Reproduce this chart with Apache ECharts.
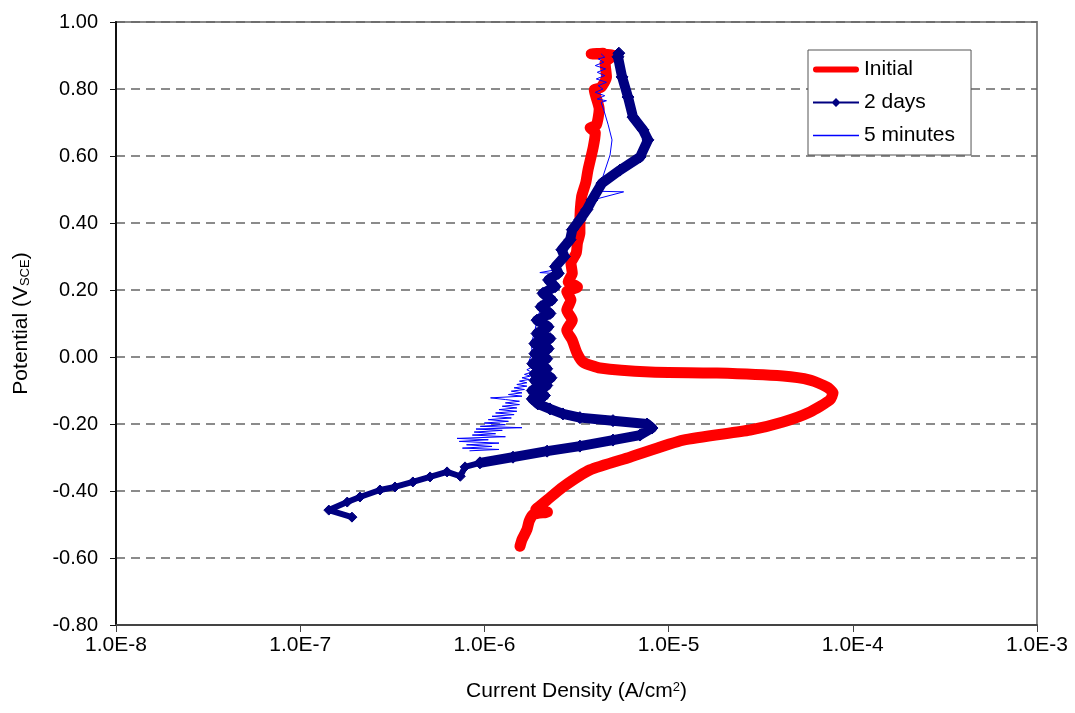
<!DOCTYPE html>
<html>
<head>
<meta charset="utf-8">
<script src="https://cdn.jsdelivr.net/npm/echarts@6/dist/echarts.min.js"></script>
<style>
html,body{margin:0;padding:0;background:#fff;}
#chart{width:1075px;height:713px;}
</style>
</head>
<body>
<div id="chart"></div>
<script>
// [current density (A/cm2), potential (V_SCE)]
const initialData = [
  [1.56e-6,-0.565],[1.60e-6,-0.545],[1.70e-6,-0.516],[1.75e-6,-0.49],[1.84e-6,-0.470],[2.2e-6,-0.463],[1.9e-6,-0.455],
  [2.0e-6,-0.445],[2.19e-6,-0.427],[2.67e-6,-0.388],[3.74e-6,-0.337],[6.16e-6,-0.299],[1.2e-5,-0.248],
  [2.77e-5,-0.218],[4.18e-5,-0.194],[5.86e-5,-0.164],[7.52e-5,-0.128],[7.81e-5,-0.107],[7.24e-5,-0.090],
  [5.86e-5,-0.069],[4.18e-5,-0.057],[1.83e-5,-0.048],[7.93e-6,-0.045],[4.25e-6,-0.033],[3.43e-6,-0.015],
  [3.18e-6,0.012],[3.0e-6,0.050],[2.8e-6,0.080],[3.0e-6,0.110],[2.8e-6,0.140],[2.95e-6,0.170],
  [2.8e-6,0.195],[3.2e-6,0.209],[2.85e-6,0.225],[3.0e-6,0.250],[2.95e-6,0.280],[3.15e-6,0.310],
  [3.2e-6,0.340],[3.3e-6,0.370],[3.3e-6,0.40],[3.37e-6,0.478],[3.55e-6,0.52],[3.65e-6,0.558],[3.9e-6,0.627],
  [4.0e-6,0.670],[3.75e-6,0.684],[4.05e-6,0.692],[4.2e-6,0.740],[3.95e-6,0.797],[4.3e-6,0.805],[4.6e-6,0.836],
  [4.52e-6,0.878],[5.0e-6,0.900],[3.8e-6,0.905],[4.40e-6,0.907]
];
const twoDaysTail = [
  [1.91e-7,-0.478],[1.43e-7,-0.457],[1.80e-7,-0.433],[2.11e-7,-0.418],[2.71e-7,-0.397],[3.27e-7,-0.388],
  [4.09e-7,-0.373],[5.07e-7,-0.358],[6.27e-7,-0.343],[7.4e-7,-0.356],[7.85e-7,-0.328],[9.46e-7,-0.316]
];
const twoDaysData = [
  [9.46e-7,-0.316],[1.43e-6,-0.299],[2.19e-6,-0.281],[3.30e-6,-0.266],[4.99e-6,-0.248],[7.0e-6,-0.233],
  [8.13e-6,-0.212],[7.64e-6,-0.200],[4.99e-6,-0.190],[3.3e-6,-0.181],[2.67e-6,-0.170],[2.27e-6,-0.155],
  [1.95e-6,-0.140],[1.82e-6,-0.125],[2.12e-6,-0.115],[1.82e-6,-0.100],[2.18e-6,-0.085],[1.88e-6,-0.070],
  [2.3e-6,-0.062],[1.88e-6,-0.050],[2.18e-6,-0.035],[1.83e-6,-0.020],[2.18e-6,-0.005],[1.88e-6,0.010],
  [2.22e-6,0.025],[1.88e-6,0.040],[2.27e-6,0.055],[1.93e-6,0.070],[2.22e-6,0.090],[1.93e-6,0.110],
  [2.27e-6,0.130],[2.03e-6,0.150],[2.32e-6,0.170],[2.08e-6,0.190],[2.42e-6,0.210],[2.23e-6,0.230],
  [2.52e-6,0.250],[2.43e-6,0.270],[2.72e-6,0.300],[2.63e-6,0.320],[2.92e-6,0.350],[3.0e-6,0.380],
  [3.3e-6,0.410],[3.6e-6,0.440],[3.84e-6,0.469],[4.35e-6,0.519],[5.45e-6,0.558],[7.0e-6,0.597],
  [7.73e-6,0.648],[7.26e-6,0.678],[6.41e-6,0.716],[6.02e-6,0.776],[5.59e-6,0.836],[5.31e-6,0.896],[5.37e-6,0.907]
];
const fiveMinData = [
  [8.3e-7,-0.280],[1.2e-6,-0.276],[7.6e-7,-0.272],[1.1e-6,-0.267],[8.0e-7,-0.262],[1.2e-6,-0.257],
  [7.3e-7,-0.252],[1.05e-6,-0.247],[7.1e-7,-0.243],[1.3e-6,-0.238],[8.6e-7,-0.233],[1.15e-6,-0.229],
  [8.8e-7,-0.224],[1.25e-6,-0.219],[9.0e-7,-0.215],[1.6e-6,-0.211],[9.5e-7,-0.207],[1.3e-6,-0.202],
  [1.0e-6,-0.197],[1.35e-6,-0.192],[1.05e-6,-0.187],[1.4e-6,-0.182],[1.1e-6,-0.177],[1.45e-6,-0.172],
  [1.15e-6,-0.167],[1.5e-6,-0.162],[1.2e-6,-0.157],[1.5e-6,-0.152],[1.25e-6,-0.147],[1.55e-6,-0.142],
  [1.3e-6,-0.137],[1.55e-6,-0.132],[1.3e-6,-0.127],[1.08e-6,-0.122],[1.6e-6,-0.117],[1.35e-6,-0.112],
  [1.6e-6,-0.107],[1.4e-6,-0.102],[1.65e-6,-0.097],[1.45e-6,-0.092],[1.7e-6,-0.087],[1.5e-6,-0.082],
  [1.7e-6,-0.077],[1.55e-6,-0.072],[1.75e-6,-0.067],[1.6e-6,-0.062],[1.78e-6,-0.057],[1.65e-6,-0.052],
  [1.8e-6,-0.045],[1.7e-6,-0.038],[1.82e-6,-0.030],[1.75e-6,-0.010],[1.82e-6,0.010],[1.8e-6,0.040],
  [1.88e-6,0.080],[1.95e-6,0.120],[2.1e-6,0.170],[2.2e-6,0.210],[2.3e-6,0.250],[2.0e-6,0.252],
  [2.42e-6,0.260],[2.6e-6,0.300],[2.84e-6,0.349],[3.1e-6,0.390],[3.43e-6,0.424],[3.89e-6,0.469],
  [5.7e-6,0.493],[4.0e-6,0.495],[4.25e-6,0.513],[4.52e-6,0.558],[4.81e-6,0.603],[4.93e-6,0.648],
  [4.7e-6,0.693],[4.45e-6,0.737],[4.3e-6,0.760],[4.6e-6,0.765],[4.1e-6,0.770],[4.5e-6,0.780],
  [4.0e-6,0.790],[4.4e-6,0.800],[4.15e-6,0.810],[4.6e-6,0.820],[4.05e-6,0.830],[4.5e-6,0.840],
  [4.1e-6,0.850],[4.55e-6,0.860],[4.0e-6,0.870],[4.45e-6,0.880],[4.15e-6,0.890],[4.5e-6,0.895],[4.3e-6,0.905]
];
const seriesNames = ['Initial', '2 days', '5 minutes'];
const xMin = 1e-8, xMax = 1e-3;
const yMin = -0.8, yMax = 1.0, yStep = 0.2;

const FONT = '"Liberation Sans", Arial, sans-serif';
const RED = '#FF0000', NAVY = '#000080', BLUE = '#0000FF';
const chart = echarts.init(document.getElementById('chart'), null, {renderer: 'canvas'});
chart.setOption({
  backgroundColor: '#fff',
  animation: false,
  grid: {left: 116, right: 38, top: 22, bottom: 88, show: true, borderColor: '#888', borderWidth: 2, backgroundColor: 'transparent'},
  legend: {
    data: [
      {name: seriesNames[0], icon: 'path://M3,0L43,0A3,3,0,0,1,43,6L3,6A3,3,0,0,1,3,0Z', itemStyle: {color: RED, borderWidth: 0}},
      {name: seriesNames[1], icon: 'path://M0,3.5L19.5,3.5L23,0L26.5,3.5L46,3.5L46,5.5L26.5,5.5L23,9L19.5,5.5L0,5.5Z', itemStyle: {color: NAVY, borderWidth: 0}},
      {name: seriesNames[2], icon: 'path://M0,0L46,0L46,1.5L0,1.5Z', itemStyle: {color: BLUE, borderWidth: 0}}
    ],
    orient: 'vertical',
    left: 808, top: 50,
    padding: [9, 16, 9, 5],
    itemGap: 12,
    itemWidth: 46, itemHeight: 22,
    borderColor: '#555', borderWidth: 1,
    backgroundColor: '#fff',
    textStyle: {fontFamily: FONT, fontSize: 21, color: '#000'}
  },
  xAxis: {
    type: 'log', logBase: 10, min: xMin, max: xMax,
    name: '{a|Current Density (A/cm}{s|2}{a|)}',
    nameLocation: 'middle', nameGap: 56,
    nameTextStyle: {rich: {
      a: {fontFamily: FONT, fontSize: 21, color: '#000', verticalAlign: 'bottom'},
      s: {fontFamily: FONT, fontSize: 13, color: '#000', verticalAlign: 'top', padding: [0, 0, 8, 0]}
    }},
    axisLine: {show: true, onZero: false, lineStyle: {color: '#444', width: 2}},
    axisTick: {show: true, length: 7, lineStyle: {color: '#444', width: 1}},
    minorTick: {show: false},
    splitLine: {show: false},
    axisLabel: {fontFamily: FONT, fontSize: 21, color: '#000', margin: 10,
      formatter: v => v.toExponential(1).toUpperCase()}
  },
  yAxis: {
    type: 'value', min: yMin, max: yMax, interval: yStep,
    name: '{a|Potential (V}{s|SCE}{a|)}',
    nameLocation: 'middle', nameGap: 84,
    nameTextStyle: {rich: {
      a: {fontFamily: FONT, fontSize: 21, color: '#000', verticalAlign: 'bottom'},
      s: {fontFamily: FONT, fontSize: 13, color: '#000', verticalAlign: 'bottom'}
    }},
    axisLine: {show: true, onZero: false, lineStyle: {color: '#111', width: 2}},
    axisTick: {show: true, inside: false, length: 6, lineStyle: {color: '#111', width: 1}},
    splitLine: {show: true, lineStyle: {color: '#666', width: 1.5, type: [9, 6]}},
    axisLabel: {fontFamily: FONT, fontSize: 20, color: '#000', margin: 18,
      formatter: v => (Math.abs(v) < 1e-9 ? 0 : v).toFixed(2)}
  },
  series: [
    {
      name: seriesNames[0], type: 'line', data: initialData, symbol: 'none', z: 2, smooth: 0.2,
      lineStyle: {color: RED, width: 11, cap: 'round', join: 'round'},
      itemStyle: {color: RED}
    },
    {
      name: seriesNames[2], type: 'line', data: fiveMinData, symbol: 'none', z: 3,
      lineStyle: {color: BLUE, width: 1},
      itemStyle: {color: BLUE}
    },
    {
      name: seriesNames[1], type: 'line', data: twoDaysTail, symbol: 'diamond', symbolSize: 10, z: 4,
      lineStyle: {color: NAVY, width: 6, join: 'round'},
      itemStyle: {color: NAVY, borderColor: NAVY, borderWidth: 1}
    },
    {
      name: seriesNames[1], type: 'line', data: twoDaysData, symbol: 'diamond', symbolSize: 12, z: 4,
      lineStyle: {color: NAVY, width: 10, join: 'round'},
      itemStyle: {color: NAVY, borderColor: NAVY, borderWidth: 1}
    }
  ]
});
</script>
</body>
</html>
